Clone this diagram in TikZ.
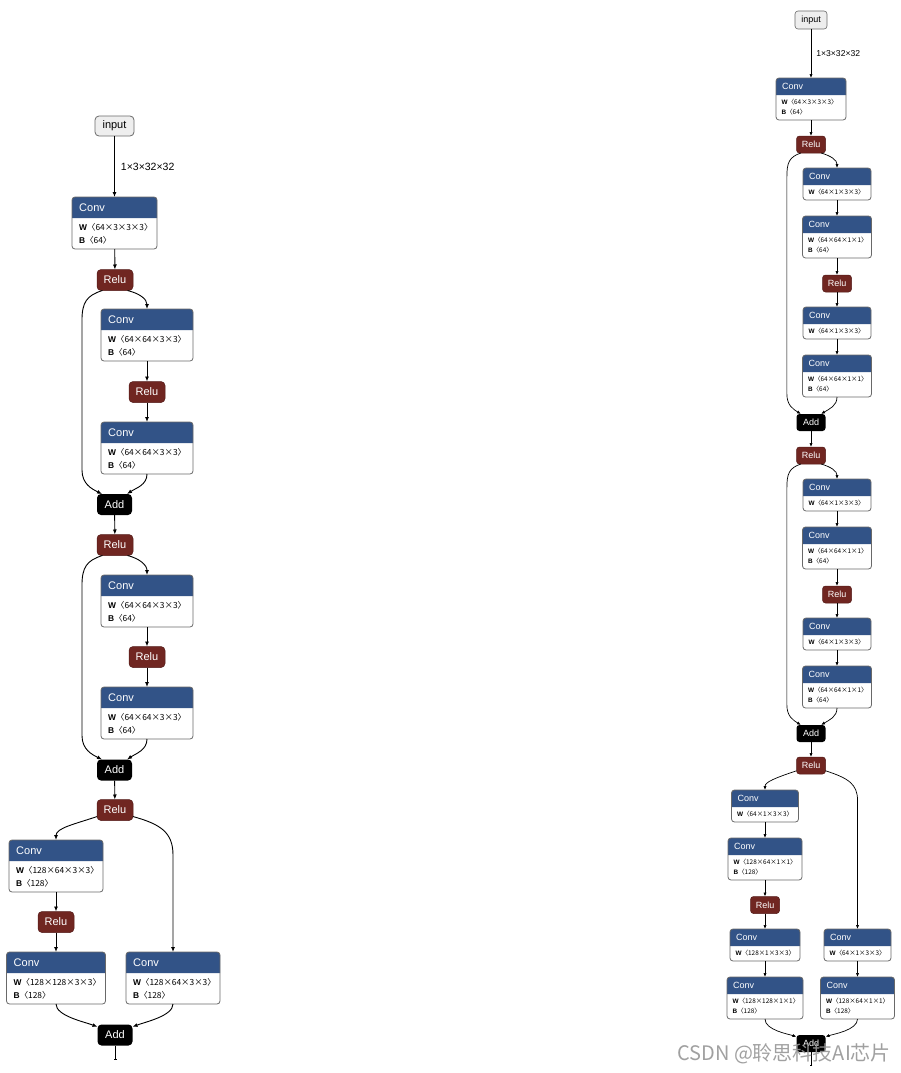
\documentclass[tikz,border=0pt]{standalone}
\usepackage{fontspec}
\setmainfont{Liberation Sans}
\newfontfamily\cjk{Noto Sans CJK SC}
\usepackage{tikz}
\usetikzlibrary{
  arrows.meta,
  calc
}
\definecolor{convblue}{RGB}{50,83,135}
\definecolor{relured}{RGB}{112,38,33}
\definecolor{framegray}{RGB}{105,105,105}
\definecolor{inputfill}{RGB}{238,238,238}
\definecolor{markgray}{RGB}{150,150,150}
\tikzset{
  op/.style={
    rounded corners=4pt,
    minimum width=36pt,
    minimum height=21pt,
    inner sep=0pt,
    outer sep=0pt,
    text=white,
    font=\fontsize{11}{13}\selectfont
  },
  opR/.style={
    op,
    rounded corners=3pt,
    minimum width=29pt,
    minimum height=17pt,
    font=\fontsize{9}{11}\selectfont
  },
  relu/.style={ fill=relured, draw=relured!75!black, line width=0.5pt },
  addop/.style={ fill=black },
  inbox/.style={ draw=framegray, fill=inputfill, text=black, line width=0.8pt },
  frame/.style={ draw=framegray, line width=0.8pt, rounded corners=3pt },
  hdrL/.style={ anchor=west, xshift=7pt, inner sep=0pt, text=white, font=\fontsize{11}{13}\selectfont },
  hdrR/.style={ anchor=west, xshift=6pt, inner sep=0pt, text=white, font=\fontsize{9}{11}\selectfont },
  bodyL/.style={ anchor=north west, xshift=7pt, yshift=-4.8pt, inner sep=0pt, align=left, font=\fontsize{8.4}{13}\selectfont },
  bodyR/.style={ anchor=north west, xshift=5.5pt, yshift=-3.8pt, inner sep=0pt, align=left, font=\fontsize{6.4}{10.5}\selectfont },
  edge/.style={ -{Latex[length=5pt,width=4pt]}, line width=0.9pt },
  edgeR/.style={ -{Latex[length=4pt,width=3.2pt]}, line width=0.7pt },
  outstub/.style={ -{Bar[width=3pt]}, line width=0.9pt },
  outstubR/.style={ -{Bar[width=2.5pt]}, line width=0.7pt },
  shapelbl/.style={ anchor=west, inner sep=0pt }
}
% conv block: name, centre x, top y, width, height, header height, body, L/R
\newcommand{\convnode}[8]{%
  \node[fill=white, rounded corners=3pt, inner sep=0pt, outer sep=0pt,
        minimum width=#4pt, minimum height=#5pt, anchor=north] (#1) at (#2,#3) {};
  \fill[convblue] ($(#1.north west)+(0,#6)$) [rounded corners=3pt] -- (#1.north west)
    -- (#1.north east) [sharp corners] -- ($(#1.north east)+(0,#6)$) -- cycle;
  \draw[frame] (#1.north west) rectangle (#1.south east);
  \node[hdr#8] at ($(#1.north west)+(0,#6/2)$) {Conv};
  \node[body#8] at ($(#1.north west)+(0,#6)$) {#7};
}
\newcommand{\wb}[2]{\textbf{W}\cjk{〈}#1\cjk{〉}\\\textbf{B}\cjk{〈}#2\cjk{〉}}
\newcommand{\wo}[1]{\textbf{W}\cjk{〈}#1\cjk{〉}}

\begin{document}
\begin{tikzpicture}[x=1pt, y=-1pt]
  \useasboundingbox (0,0) rectangle (900,1073);

  % ---- left graph ----
  \node[op, inbox, minimum width=39pt, minimum height=20pt] (inL) at (114.5,126) {input};
  \convnode{c1}{114.5}{197}{85}{52}{21}{\wb{64×3×3×3}{64}}{L}
  \node[op, relu] (r1) at (115,280) {Relu};
  \convnode{c2}{147}{309}{92}{52}{21}{\wb{64×64×3×3}{64}}{L}
  \node[op, relu] (r2) at (147,392) {Relu};
  \convnode{c3}{147}{422}{92}{52}{21}{\wb{64×64×3×3}{64}}{L}
  \node[op, addop, minimum width=35pt] (a1) at (114.5,504.5) {Add};
  \node[op, relu] (r3) at (115,545) {Relu};
  \convnode{c4}{147}{575}{92}{52}{21}{\wb{64×64×3×3}{64}}{L}
  \node[op, relu] (r4) at (147,657) {Relu};
  \convnode{c5}{147}{687}{92}{52}{21}{\wb{64×64×3×3}{64}}{L}
  \node[op, addop, minimum width=35pt] (a2) at (114.5,770) {Add};
  \node[op, relu] (r5) at (115,810) {Relu};
  \convnode{c6}{56}{840}{94}{52}{21}{\wb{128×64×3×3}{128}}{L}
  \node[op, relu] (r6) at (56,922) {Relu};
  \convnode{c7}{56}{952}{99}{52}{21}{\wb{128×128×3×3}{128}}{L}
  \convnode{c8}{173}{952}{94}{52}{21}{\wb{128×64×3×3}{128}}{L}
  \node[op, addop, minimum width=35pt] (a3) at (115,1035) {Add};
  \coordinate (outL) at (115,1060);

  \draw[edge] (inL) -- (c1) node[shapelbl, pos=0.5, xshift=6pt, font=\fontsize{10.5}{12}\selectfont] {1×3×32×32};
  \foreach \a/\b in {c1/r1,c2/r2,r2/c3,a1/r3,c4/r4,r4/c5,a2/r5,c6/r6,r6/c7}
    \draw[edge] (\a) -- (\b);
  \draw[line width=0.9pt] (a3) -- (outL);
  \draw[outstub] ($(outL)+(0,-1)$) -- (outL);
  % residual blocks
  \foreach \r/\c/\cc/\ad in {r1/c2/c3/a1, r3/c4/c5/a2} {
    \draw[edge] (\r.-40) .. controls ($(\r.-40)+(12,3)$) and ($(\c.north)+(0,-10)$) .. (\c.north);
    \draw[edge] (\cc.south) .. controls ($(\cc.south)+(0,11)$) and ($(\ad.40)+(9,-6)$) .. (\ad.40);
    \draw[edge] (\r.220) .. controls ($(\r.220)+(-16,5)$) and ($(\r.220)+(-20.5,12)$) .. ($(\r.220)+(-20.5,30)$)
      -- ($(\ad.140)+(-20,-24)$) .. controls ($(\ad.140)+(-20,-10)$) and ($(\ad.140)+(-10,-5)$) .. (\ad.140);
  }
  \draw[edge] (r5.200) .. controls (75,824) and (56,828) .. (c6.north);
  \draw[edge] (r5.-20) .. controls (160,824) and (173,832) .. (173,855) -- (c8.north);
  \draw[edge] (c7.south) .. controls (56,1016) and (85,1022) .. (a3.155);
  \draw[edge] (c8.south) .. controls (173,1016) and (145,1022) .. (a3.25);

  % ---- right graph ----
  \node[opR, inbox, minimum width=32pt, minimum height=18pt, line width=0.6pt] (inR) at (811,20) {input};
  \convnode{k1}{811}{78}{70}{42}{17}{\wb{64×3×3×3}{64}}{R}
  \node[opR, relu] (ra) at (811,144.5) {Relu};
  \convnode{k2}{837}{168}{68}{32}{17}{\wo{64×1×3×3}}{R}
  \convnode{k3}{837}{216}{69}{42}{17}{\wb{64×64×1×1}{64}}{R}
  \node[opR, relu] (rb) at (837,283.5) {Relu};
  \convnode{k4}{837}{307}{68}{32}{17}{\wo{64×1×3×3}}{R}
  \convnode{k5}{837}{355}{69}{42}{17}{\wb{64×64×1×1}{64}}{R}
  \node[opR, addop] (aa) at (811,422.5) {Add};
  \node[opR, relu] (rc) at (811,455.5) {Relu};
  \convnode{k6}{837}{479}{68}{32}{17}{\wo{64×1×3×3}}{R}
  \convnode{k7}{837}{527}{69}{42}{17}{\wb{64×64×1×1}{64}}{R}
  \node[opR, relu] (rd) at (837,594.5) {Relu};
  \convnode{k8}{837}{618}{68}{32}{17}{\wo{64×1×3×3}}{R}
  \convnode{k9}{837}{666}{69}{42}{17}{\wb{64×64×1×1}{64}}{R}
  \node[opR, addop] (ab) at (811,733.5) {Add};
  \node[opR, relu] (re) at (811,765.5) {Relu};
  \convnode{k10}{765}{790}{67}{32}{17}{\wo{64×1×3×3}}{R}
  \convnode{k11}{765}{838}{74}{42}{17}{\wb{128×64×1×1}{128}}{R}
  \node[opR, relu] (rf) at (765,905) {Relu};
  \convnode{k12}{765}{929}{70}{32}{17}{\wo{128×1×3×3}}{R}
  \convnode{k13}{765}{977}{76}{42}{17}{\wb{128×128×1×1}{128}}{R}
  \convnode{k14}{857.5}{929}{67}{32}{17}{\wo{64×1×3×3}}{R}
  \convnode{k15}{857.5}{977}{74}{42}{17}{\wb{128×64×1×1}{128}}{R}
  \node[opR, addop] (ac) at (811,1043.5) {Add};
  \coordinate (outR) at (811,1066);

  \draw[edgeR] (inR) -- (k1) node[shapelbl, pos=0.5, xshift=5pt, font=\fontsize{8.6}{10}\selectfont] {1×3×32×32};
  \foreach \a/\b in {k1/ra,k2/k3,k3/rb,rb/k4,k4/k5,aa/rc,k6/k7,k7/rd,rd/k8,k8/k9,ab/re,
                     k10/k11,k11/rf,rf/k12,k12/k13,k14/k15}
    \draw[edgeR] (\a) -- (\b);
  \draw[line width=0.7pt] (ac) -- (outR);
  \draw[outstubR] ($(outR)+(0,-1)$) -- (outR);
  \foreach \r/\c/\cc/\ad in {ra/k2/k5/aa, rc/k6/k9/ab} {
    \draw[edgeR] (\r.-40) .. controls ($(\r.-40)+(10,3)$) and ($(\c.north)+(0,-8)$) .. (\c.north);
    \draw[edgeR] (\cc.south) .. controls ($(\cc.south)+(0,9)$) and ($(\ad.40)+(8,-5)$) .. (\ad.40);
    \draw[edgeR] (\r.220) .. controls ($(\r.220)+(-12,4)$) and ($(\r.220)+(-14,10)$) .. ($(\r.220)+(-14,24)$)
      -- ($(\ad.140)+(-14,-20)$) .. controls ($(\ad.140)+(-14,-9)$) and ($(\ad.140)+(-8,-5)$) .. (\ad.140);
  }
  \draw[edgeR] (re.200) .. controls (775,778) and (765,782) .. (k10.north);
  \draw[edgeR] (re.-20) .. controls (848,778) and (857.5,784) .. (857.5,800) -- (k14.north);
  \draw[edgeR] (k13.south) .. controls (765,1030) and (788,1034) .. (ac.155);
  \draw[edgeR] (k15.south) .. controls (857.5,1030) and (834,1034) .. (ac.25);

  % watermark
  \node[anchor=west, inner sep=0pt, text=markgray, opacity=0.9,
        font=\cjk\fontsize{20}{20}\selectfont] (mark) at (677,1054) {CSDN @聆思科技AI芯片};
\end{tikzpicture}
\end{document}
